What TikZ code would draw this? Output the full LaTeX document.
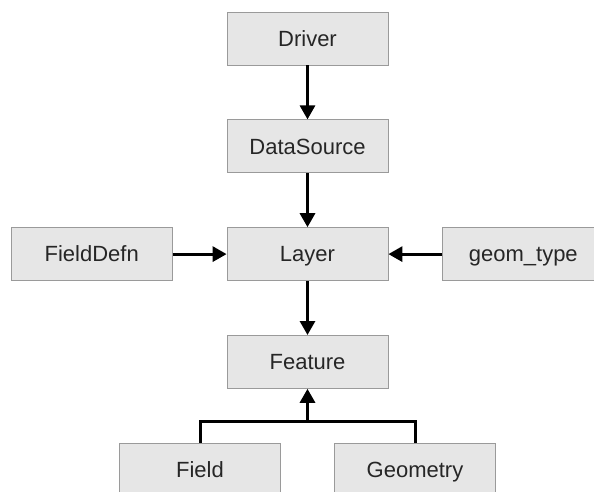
\documentclass[tikz,border=0pt]{standalone}
\usepackage{fontspec}
\setmainfont{Liberation Sans}
\usetikzlibrary{arrows.meta,positioning}

\definecolor{boxfill}{HTML}{E6E6E6}
\definecolor{boxline}{HTML}{9A9A9A}
\definecolor{labeltext}{HTML}{262626}

\begin{document}
\begin{tikzpicture}[x=1pt,y=1pt,>={Triangle[length=14pt,width=15pt]},node distance=54pt,
  box/.style={draw=boxline,fill=boxfill,line width=0.8pt,minimum width=161pt,minimum height=53pt,
    text height=15.5pt,text depth=0pt,font=\fontsize{22}{26}\selectfont,text=labeltext},
  link/.style={line width=3pt}]

\useasboundingbox (0,0) rectangle (594,-492);
\clip (0,0) rectangle (594,-492);

\node[box]   (driver) at (307.5,-38.5)   {Driver};
\node[box]   (datasource) [below=of driver]   {DataSource};
  \node[box] (layer) [below=of datasource]  {Layer};
  \node[box] (fielddefn) [left=of layer]     {FieldDefn};
  \node[box] (geomtype) [right=of layer]     {geom\_type};
\node[box]   (feature) [below=of layer]   {Feature};
  \node[box] (field) [below=of feature,xshift=-107.5pt]    {Field};
  \node[box] (geometry) [below=of feature,xshift=107.5pt]  {Geometry};

\coordinate[below=33pt of feature.south] (join);

\path[->,link] (driver) edge (datasource)
        (datasource) edge (layer)
        (fielddefn) edge (layer)
        (geomtype) edge (layer)
        (layer) edge (feature)
        (join) edge (feature);

% the two children meet below Feature
\draw[link] (field.north) |- (join) -| (geometry.north);

\end{tikzpicture}
\end{document}
